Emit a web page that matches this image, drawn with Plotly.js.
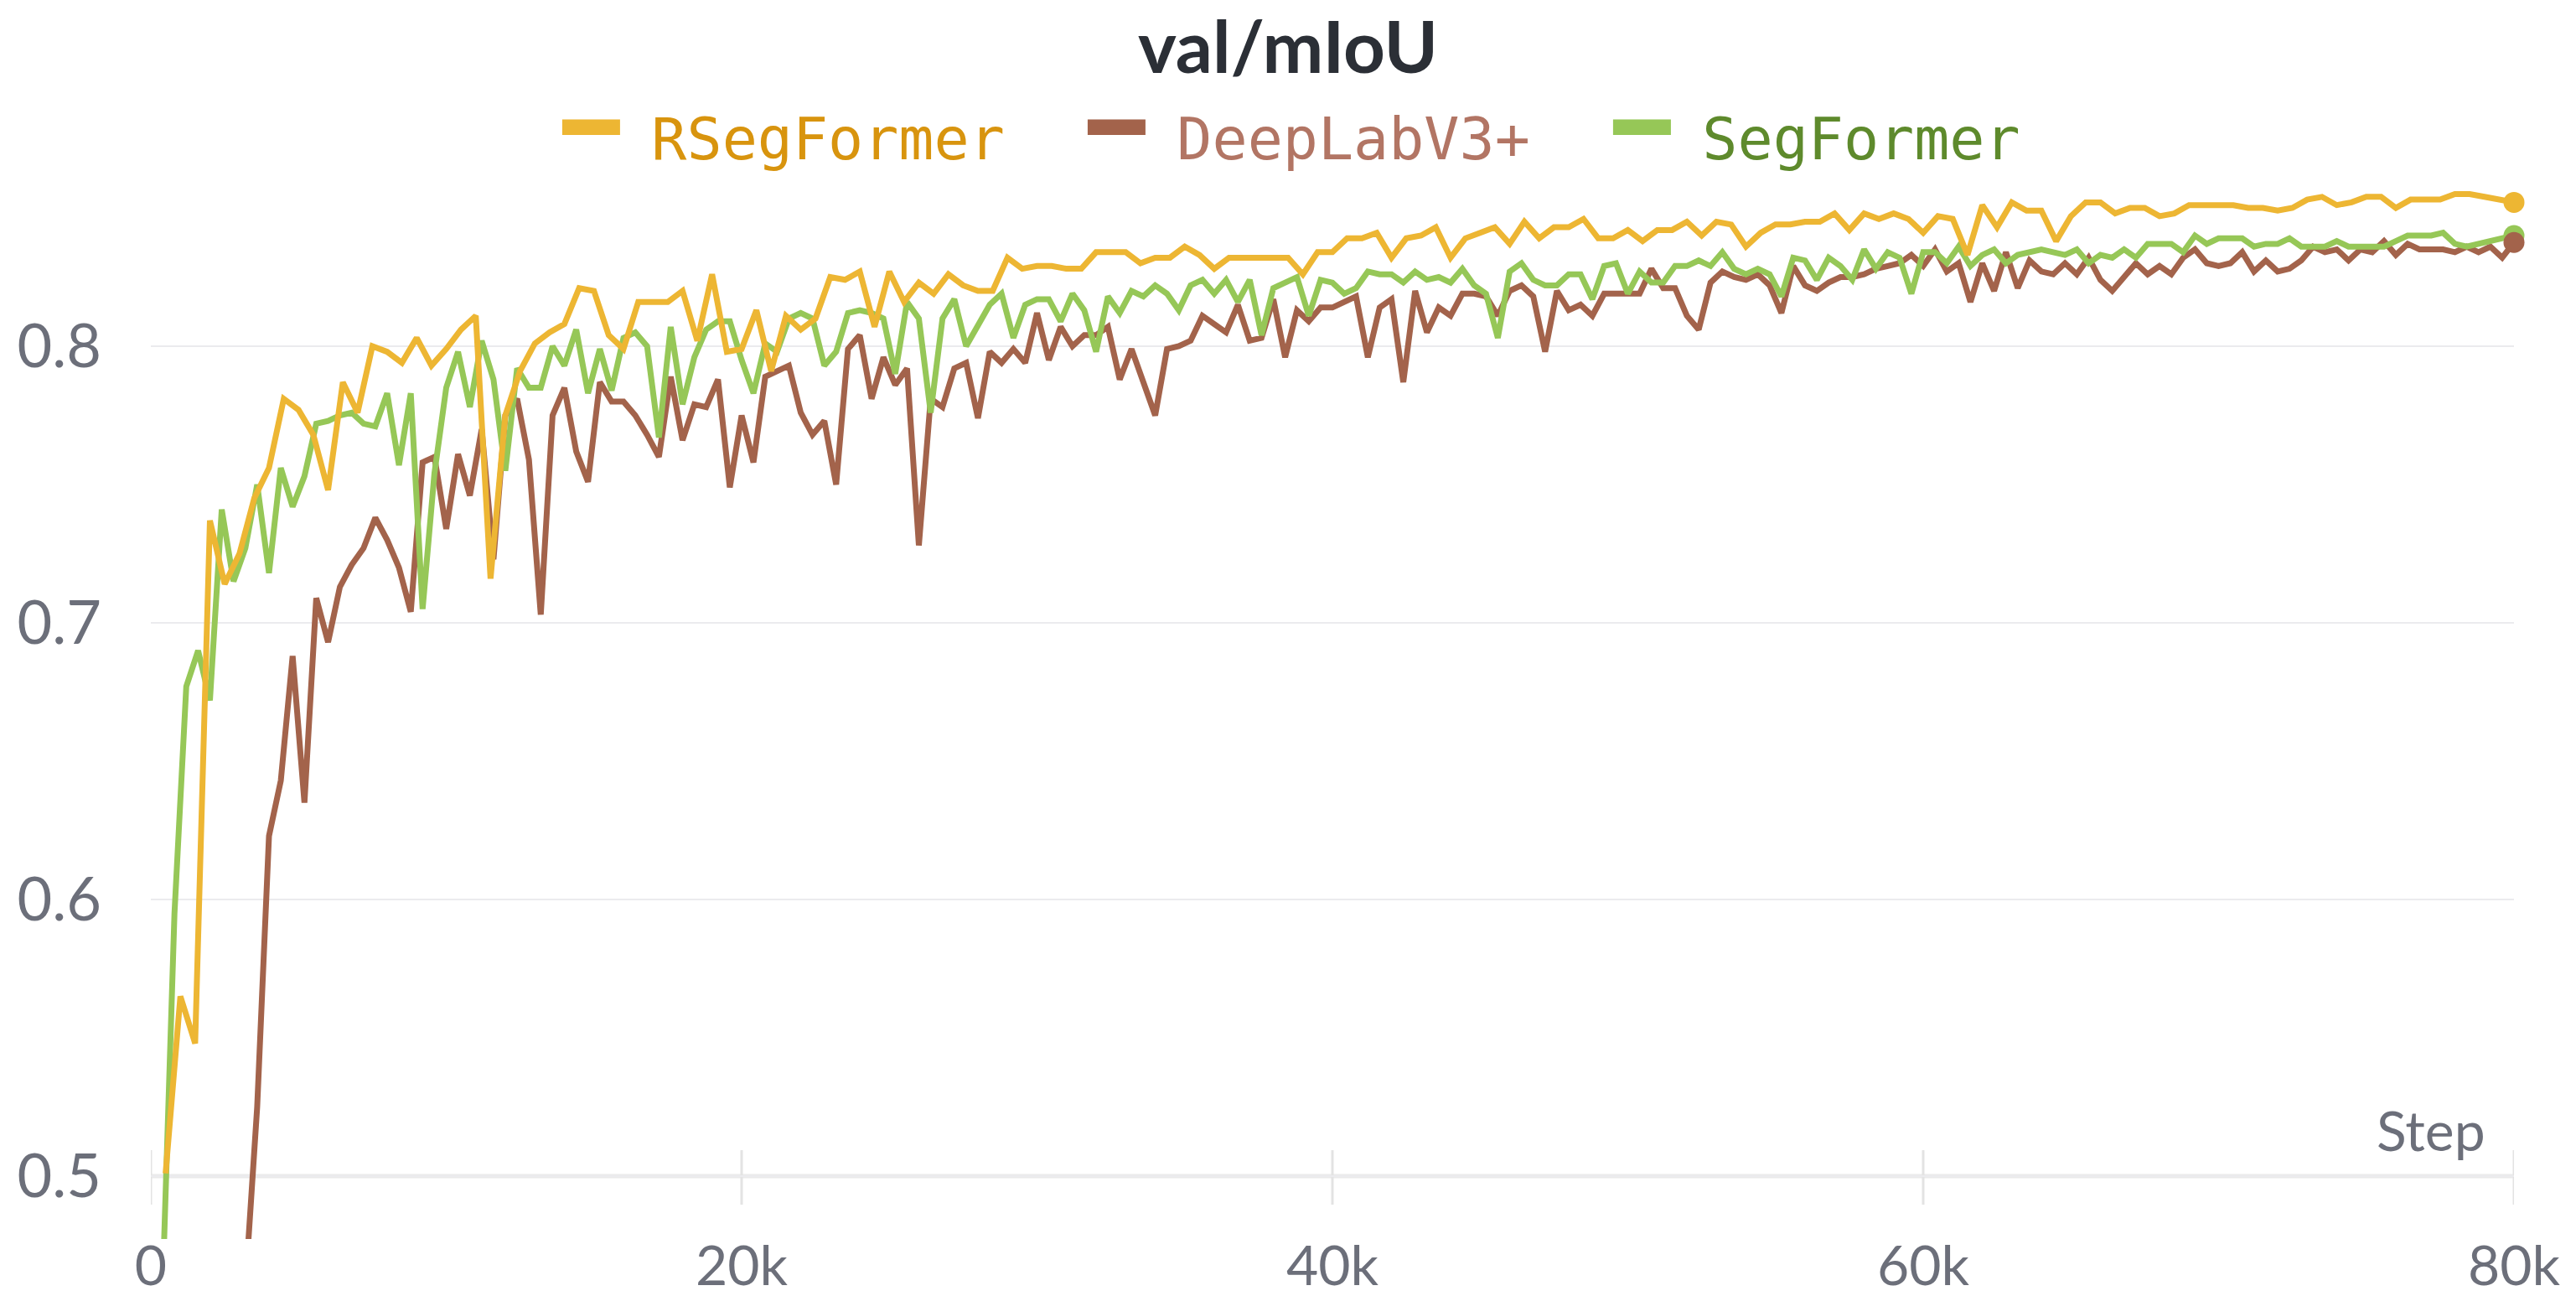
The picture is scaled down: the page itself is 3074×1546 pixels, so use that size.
<!DOCTYPE html>
<html>
<head>
<meta charset="utf-8">
<script src="https://cdn.plot.ly/plotly-3.0.1.min.js"></script>
<style>
  html, body { margin: 0; padding: 0; background: #ffffff; }
  #chart { width: 3074px; height: 1546px; }
</style>
</head>
<body>
<div id="chart"></div>
<script>
// ---------------- DATA ----------------
const seriesNames = ['RSegFormer', 'DeepLabV3+', 'SegFormer'];

// RSegFormer: logged every 500 steps, first at step 500
const rsegStart = 500, rsegInterval = 500;
const rsegValues = [
  0.501,0.565,0.548,0.737,0.714,0.725,0.745,0.756,0.781,0.777,
  0.768,0.748,0.787,0.776,0.800,0.798,0.794,0.803,0.793,0.799,
  0.806,0.811,0.716,0.775,0.791,0.801,0.805,0.808,0.821,0.820,
  0.804,0.799,0.816,0.816,0.816,0.820,0.802,0.826,0.798,0.799,
  0.813,0.791,0.811,0.806,0.810,0.825,0.824,0.827,0.807,0.827,
  0.816,0.823,0.819,0.826,0.822,0.820,0.820,0.832,0.828,0.829,
  0.829,0.828,0.828,0.834,0.834,0.834,0.830,0.832,0.832,0.836,
  0.833,0.828,0.832,0.832,0.832,0.832,0.832,0.826,0.834,0.834,
  0.839,0.839,0.841,0.832,0.839,0.840,0.843,0.832,0.839,0.841,
  0.843,0.837,0.845,0.839,0.843,0.843,0.846,0.839,0.839,0.842,
  0.838,0.842,0.842,0.845,0.840,0.845,0.844,0.836,0.841,0.844,
  0.844,0.845,0.845,0.848,0.842,0.848,0.846,0.848,0.846,0.841,
  0.847,0.846,0.833,0.851,0.843,0.852,0.849,0.849,0.838,0.847,
  0.852,0.852,0.848,0.850,0.850,0.847,0.848,0.851,0.851,0.851,
  0.851,0.850,0.850,0.849,0.850,0.853,0.854,0.851,0.852,0.854,
  0.854,0.850,0.853,0.853,0.853,0.855,0.855,0.854,0.853,0.852
];

// DeepLabV3+: logged every 400 steps, first visible at step 3200
const deepStart = 3200, deepInterval = 400;
const deepValues = [
  0.460,0.525,0.623,0.643,0.688,0.635,0.709,0.693,0.713,0.721,
  0.727,0.738,0.730,0.720,0.704,0.758,0.760,0.734,0.761,0.746,
  0.770,0.723,0.775,0.781,0.759,0.703,0.775,0.785,0.762,0.751,
  0.787,0.780,0.780,0.775,0.768,0.760,0.789,0.766,0.779,0.778,
  0.788,0.749,0.775,0.758,0.789,0.791,0.793,0.776,0.768,0.773,
  0.750,0.799,0.804,0.781,0.796,0.786,0.792,0.728,0.781,0.778,
  0.792,0.794,0.774,0.798,0.794,0.799,0.794,0.812,0.795,0.807,
  0.800,0.804,0.804,0.807,0.788,0.799,0.787,0.775,0.799,0.800,
  0.802,0.811,0.808,0.805,0.815,0.802,0.803,0.817,0.796,0.813,
  0.809,0.814,0.814,0.816,0.818,0.796,0.814,0.817,0.787,0.820,
  0.805,0.814,0.811,0.819,0.819,0.818,0.811,0.820,0.822,0.818,
  0.798,0.820,0.813,0.815,0.811,0.819,0.819,0.819,0.819,0.828,
  0.821,0.821,0.811,0.806,0.823,0.827,0.825,0.824,0.826,0.822,
  0.812,0.829,0.822,0.820,0.823,0.825,0.825,0.826,0.828,0.829,
  0.830,0.833,0.829,0.835,0.827,0.830,0.816,0.830,0.820,0.834,
  0.821,0.831,0.827,0.826,0.830,0.826,0.832,0.824,0.820,0.825,
  0.830,0.826,0.829,0.826,0.832,0.835,0.830,0.829,0.830,0.834,
  0.827,0.831,0.827,0.828,0.831,0.836,0.834,0.835,0.831,0.835,
  0.834,0.838,0.833,0.837,0.835,0.835,0.835,0.834,0.836,0.834,
  0.836,0.832,0.8375
];

// SegFormer: logged every 400 steps, first at step 400
const segStart = 400, segInterval = 400;
const segValues = [
  0.460,0.595,0.677,0.690,0.672,0.741,0.715,0.727,0.750,0.718,
  0.756,0.742,0.753,0.772,0.773,0.775,0.776,0.772,0.771,0.783,
  0.757,0.783,0.705,0.754,0.785,0.798,0.778,0.802,0.788,0.755,
  0.792,0.785,0.785,0.800,0.793,0.806,0.783,0.799,0.784,0.803,
  0.805,0.800,0.767,0.807,0.779,0.796,0.806,0.809,0.809,0.795,
  0.783,0.801,0.798,0.810,0.812,0.810,0.793,0.798,0.812,0.813,
  0.812,0.810,0.790,0.816,0.810,0.776,0.810,0.817,0.800,0.808,
  0.815,0.819,0.803,0.815,0.817,0.817,0.809,0.819,0.813,0.798,
  0.818,0.812,0.820,0.818,0.822,0.819,0.813,0.822,0.824,0.819,
  0.824,0.816,0.824,0.804,0.821,0.823,0.825,0.811,0.824,0.823,
  0.819,0.821,0.827,0.826,0.826,0.823,0.827,0.824,0.825,0.823,
  0.828,0.822,0.819,0.803,0.827,0.830,0.824,0.822,0.822,0.826,
  0.826,0.817,0.829,0.830,0.819,0.827,0.823,0.823,0.829,0.829,
  0.831,0.829,0.834,0.828,0.826,0.828,0.826,0.818,0.832,0.831,
  0.824,0.832,0.829,0.824,0.835,0.828,0.834,0.832,0.819,0.834,
  0.834,0.830,0.836,0.829,0.833,0.835,0.830,0.833,0.834,0.835,
  0.834,0.833,0.835,0.830,0.833,0.832,0.835,0.832,0.837,0.837,
  0.837,0.834,0.840,0.837,0.839,0.839,0.839,0.836,0.837,0.837,
  0.839,0.836,0.836,0.836,0.838,0.836,0.836,0.836,0.836,0.838,
  0.840,0.840,0.840,0.841,0.837,0.836,0.837,0.838,0.839,0.840
];

const xTickVals = [0, 20000, 40000, 60000, 80000];
const xTickText = ['0', '20k', '40k', '60k', '80k'];
const yTickVals = [0.5, 0.6, 0.7, 0.8];
const yTickText = ['0.5', '0.6', '0.7', '0.8'];

// ---------------- STYLE ----------------
const lineColors = { 'RSegFormer': '#EDB633', 'DeepLabV3+': '#A3634B', 'SegFormer': '#96C757' };
const legendTextColors = { 'RSegFormer': '#D8940E', 'DeepLabV3+': '#B27564', 'SegFormer': '#5E8A2C' };
const tickColor = '#6C6F7A';
const gridColor = '#EBEBEE';
const sansFont = 'Lato, "Source Sans Pro", "Open Sans", sans-serif';
const monoFont = '"DejaVu Sans Mono", "Liberation Mono", monospace';

function stepsFor(values, start, interval) {
  return values.map((_, i) => start + i * interval);
}

const seriesData = {
  'RSegFormer': { x: stepsFor(rsegValues, rsegStart, rsegInterval), y: rsegValues },
  'DeepLabV3+': { x: stepsFor(deepValues, deepStart, deepInterval), y: deepValues },
  'SegFormer':  { x: stepsFor(segValues, segStart, segInterval), y: segValues }
};

const drawOrder = ['DeepLabV3+', 'SegFormer', 'RSegFormer'];
const dotOrder = ['SegFormer', 'DeepLabV3+', 'RSegFormer'];

const traces = [];
drawOrder.forEach(name => {
  traces.push({
    type: 'scatter', mode: 'lines', name: name, showlegend: false,
    x: seriesData[name].x, y: seriesData[name].y,
    line: { color: lineColors[name], width: 7, shape: 'linear' },
    hoverinfo: 'skip'
  });
});
dotOrder.forEach(name => {
  const xs = seriesData[name].x, ys = seriesData[name].y;
  traces.push({
    type: 'scatter', mode: 'markers', showlegend: false, cliponaxis: false,
    x: [xs[xs.length - 1]], y: [ys[ys.length - 1]],
    marker: { color: lineColors[name], size: 25 },
    hoverinfo: 'skip'
  });
});
// legend entries (in legend order); the swatch is a heavy bar glyph in the series colour
seriesNames.forEach(name => {
  traces.push({
    type: 'scatter', mode: 'lines', x: [null], y: [null],
    name: '<span style="color:' + lineColors[name] + ';font-size:111px">\u2501</span>' +
          '<span style="font-size:64px">\u00a0</span>' +
          '<span style="color:' + legendTextColors[name] + '">' + name + '</span>',
    line: { color: 'rgba(0,0,0,0)', width: 0 },
    hoverinfo: 'skip', showlegend: true
  });
});

const yMin = 0.4773, yMax = 0.86;
const tickUp = 0.0094, tickDown = 0.0103;
const shapes = [
  { type: 'line', xref: 'paper', yref: 'y', x0: 0, x1: 1, y0: 0.5, y1: 0.5,
    line: { color: '#EAEAEA', width: 5 }, layer: 'below' }
].concat(xTickVals.map(v => ({
  type: 'line', xref: 'x', yref: 'y', x0: v, x1: v, y0: 0.5 - tickDown, y1: 0.5 + tickUp,
  line: { color: '#E3E3E3', width: 3 }, layer: 'below'
})));

const layout = {
  width: 3074, height: 1546,
  paper_bgcolor: '#ffffff', plot_bgcolor: '#ffffff',
  margin: { l: 180, r: 74, t: 215, b: 68, pad: 0 },
  title: {
    text: '<b>val/mIoU</b>',
    font: { family: sansFont, size: 87, color: '#2B2F36' },
    x: 0.5, xref: 'container', xanchor: 'center',
    y: 1 - 57 / 1546, yref: 'container', yanchor: 'middle'
  },
  showlegend: true,
  legend: {
    orientation: 'h', xref: 'container', yref: 'container',
    x: 632 / 3074, xanchor: 'left', y: 1 - 163 / 1546, yanchor: 'middle',
    font: { family: monoFont, size: 70 },
    itemwidth: 30, entrywidth: 582, entrywidthmode: 'pixels',
    traceorder: 'normal',
    bgcolor: 'rgba(0,0,0,0)', borderwidth: 0
  },
  xaxis: {
    range: [0, 80000], tickvals: xTickVals, ticktext: xTickText,
    showgrid: false, zeroline: false, showline: false, ticks: '',
    tickfont: { family: sansFont, size: 66, color: tickColor },
    ticklabelstandoff: -12,
    fixedrange: true
  },
  yaxis: {
    range: [yMin, yMax], tickvals: yTickVals, ticktext: yTickText,
    showgrid: true, gridcolor: gridColor, gridwidth: 2.5,
    zeroline: false, showline: false, ticks: '',
    tickfont: { family: sansFont, size: 72, color: tickColor },
    ticklabelstandoff: 58,
    fixedrange: true
  },
  shapes: shapes,
  annotations: [{
    text: 'Step', xref: 'paper', yref: 'y', x: 1, y: 0.5,
    xanchor: 'right', yanchor: 'bottom', xshift: -32, yshift: 14,
    showarrow: false, font: { family: sansFont, size: 66, color: tickColor }
  }]
};

Plotly.newPlot('chart', traces, layout, { displayModeBar: false, staticPlot: true, responsive: false });
</script>
</body>
</html>
